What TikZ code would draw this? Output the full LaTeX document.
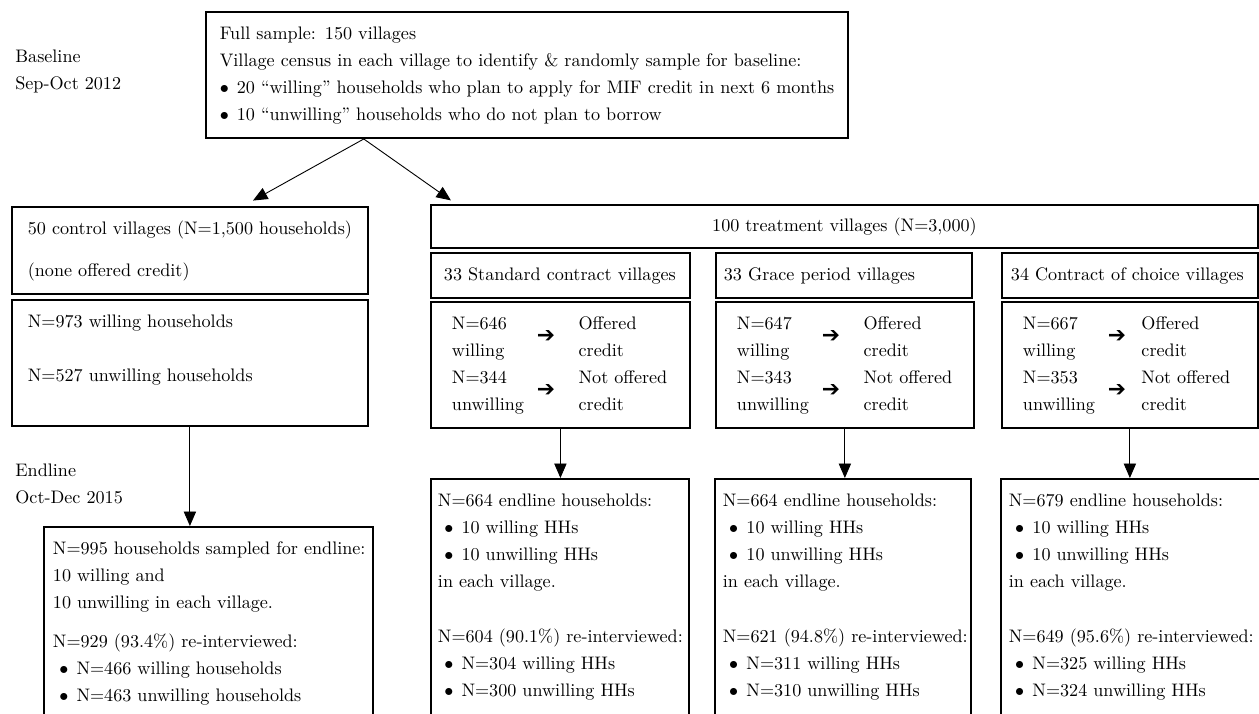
\documentclass[tikz,border=0pt]{standalone}
\usepackage{fontspec}
\newfontfamily\arrowfont{DejaVu Sans}
\usetikzlibrary{arrows.meta}

\newcommand{\twoline}[2]{\begin{tabular}[c]{@{}l@{}}#1\\#2\end{tabular}}
\newcommand{\goarrow}{{\arrowfont\bfseries\fontsize{12}{12}\selectfont ➔}}
\newcommand{\itm}{\makebox[13pt][l]{\hspace{3.5pt}$\bullet$}}

\begin{document}
\begin{tikzpicture}[
    x=0.5517pt, y=-0.5517pt,
    txt/.style={anchor=north west, inner sep=0pt, font=\fontsize{10}{14.9}\selectfont,
        execute at begin node={\rightskip=-5pt\strut}, execute at end node={\strut}},
    box/.style={txt, draw, line width=1pt, inner ysep=5pt},
    arrow/.style={-{Triangle[length=8pt, width=6.8pt]}, line width=0.5pt}
]
    \useasboundingbox (0,0) rectangle (1259,713);
    \clip (0,0) rectangle (1259,713);

    % baseline
    \node[box, inner xsep=7.7pt, text width=338.8pt] (full) at (205,11) {Full sample: 150 villages\\
        Village census in each village to identify \& randomly sample for baseline:\\
        \makebox[9.4pt][l]{$\bullet$}20 ``willing'' households who plan to apply for MIF credit in next 6 months\\
        \makebox[9.4pt][l]{$\bullet$}10 ``unwilling'' households who do not plan to borrow};
    \node[txt, text width=90pt] (base) at (15,43) {Baseline\\Sep-Oct 2012};

    % control arm
    \node[box, inner xsep=8.8pt, text width=178.8pt] (ctrl) at (11,206) {50 control villages (N=1,500 households)\\[8.3pt](none offered credit)};
    \node[box, inner xsep=8.8pt, text width=178.8pt] (ctrlhh) at (11,299) {N=973 willing households\\[14.9pt]N=527 unwilling households\\[-3.9pt]};

    % treatment arms
    \node[box, minimum width=456.3pt, inner ysep=4.4pt] (treat) at (430,204) {100 treatment villages (N=3,000)};
    \node[box, inner xsep=7.2pt, text width=128.5pt] (std) at (430,252) {33 Standard contract villages};
    \node[box, inner xsep=4.4pt, text width=132.4pt] (grace) at (715,252) {33 Grace period villages};
    \node[box, inner xsep=5pt, text width=131.2pt] (choice) at (1001,252) {34 Contract of choice villages};

    \node[box, inner xsep=11.6pt, text width=119.7pt] (stdhh) at (430,301) {\begin{tabular}{@{}p{46.9pt}@{}p{23pt}@{}l@{}}
        \twoline{N=646}{willing} & \goarrow & \twoline{Offered}{credit}\\
        \twoline{N=344}{unwilling} & \goarrow & \twoline{Not offered}{credit}
    \end{tabular}};
    \node[box, inner xsep=11.6pt, text width=119.1pt] (gracehh) at (715,301) {\begin{tabular}{@{}p{46.9pt}@{}p{23pt}@{}l@{}}
        \twoline{N=647}{willing} & \goarrow & \twoline{Offered}{credit}\\
        \twoline{N=343}{unwilling} & \goarrow & \twoline{Not offered}{credit}
    \end{tabular}};
    \node[box, inner xsep=11.6pt, text width=118pt] (choicehh) at (1001,301) {\begin{tabular}{@{}p{46.9pt}@{}p{18.5pt}@{}l@{}}
        \twoline{N=667}{willing} & \goarrow & \twoline{Offered}{credit}\\
        \twoline{N=353}{unwilling} & \goarrow & \twoline{Not offered}{credit}
    \end{tabular}};

    % endline
    \node[txt, text width=90pt] (endl) at (15,457) {Endline\\Oct-Dec 2015};
    \node[box, inner xsep=5pt, text width=171.5pt] (ctrlend) at (43,526) {N=995 households sampled for endline:\\
        10 willing and\\10 unwilling in each village.\\[6.6pt]
        N=929 (93.4\%) re-interviewed:\\\itm N=466 willing households\\\itm N=463 unwilling households\\};
    \node[box, inner xsep=3.9pt, text width=134.5pt] (stdend) at (430,478) {N=664 endline households:\\
        \itm 10 willing HHs\\\itm 10 unwilling HHs\\in each village.\\[15.4pt]
        N=604 (90.1\%) re-interviewed:\\\itm N=304 willing HHs\\\itm N=300 unwilling HHs\\};
    \node[box, inner xsep=4.4pt, text width=132.4pt] (graceend) at (714,478) {N=664 endline households:\\
        \itm 10 willing HHs\\\itm 10 unwilling HHs\\in each village.\\[15.4pt]
        N=621 (94.8\%) re-interviewed:\\\itm N=311 willing HHs\\\itm N=310 unwilling HHs\\};
    \node[box, inner xsep=4.4pt, text width=145pt] (choiceend) at (1000,478) {N=679 endline households:\\
        \itm 10 willing HHs\\\itm 10 unwilling HHs\\in each village.\\[15.4pt]
        N=649 (95.6\%) re-interviewed:\\\itm N=325 willing HHs\\\itm N=324 unwilling HHs\\};

    \draw[arrow] ([xshift=-90pt]full.south) -- ([xshift=34.8pt, yshift=3pt]ctrl.north);
    \draw[arrow] ([xshift=-90pt]full.south) -- ([xshift=-217.1pt, yshift=2pt]treat.north);
    \draw[arrow] (ctrlhh.south) -- (ctrlhh.south |- ctrlend.north);
    \draw[arrow] (stdhh.south) -- (stdhh.south |- stdend.north);
    \draw[arrow] (gracehh.south) -- (gracehh.south |- graceend.north);
    \draw[arrow] (choicehh.south) -- (choicehh.south |- choiceend.north);
\end{tikzpicture}
\end{document}
